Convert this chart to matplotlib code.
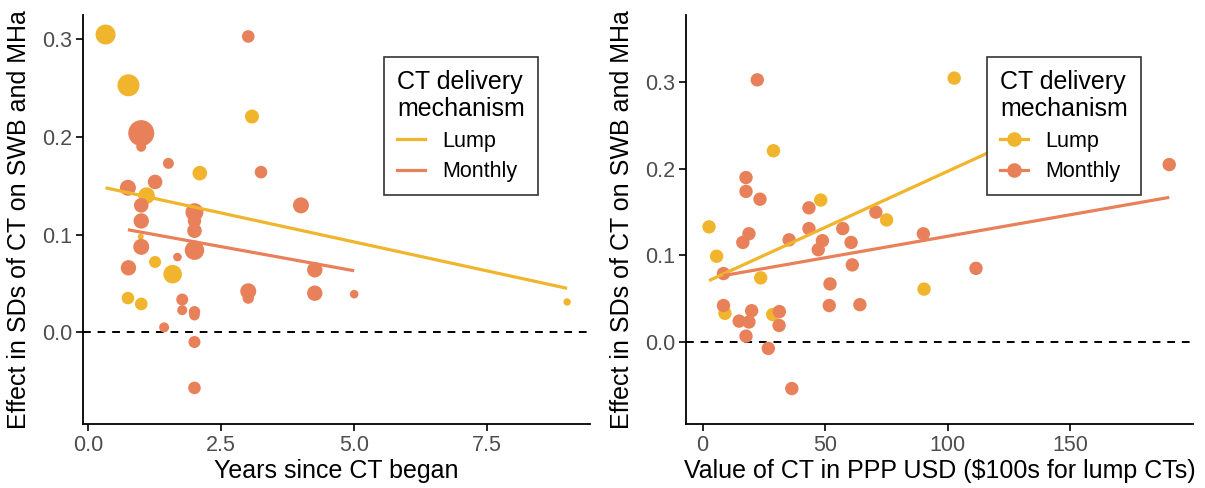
import matplotlib
matplotlib.use("Agg")
import matplotlib.pyplot as plt
from matplotlib.lines import Line2D

plt.rcParams['font.family'] = ['Liberation Sans', 'DejaVu Sans']

# ---- data: left panel (years since CT began) ----
years_lump = [0.33, 0.76, 3.08, 2.10, 1.10, 0.99, 1.26, 1.59, 0.75, 1.00, 9.00, 1.00]
eff_lump_l = [0.305, 0.253, 0.221, 0.163, 0.140, 0.098, 0.072, 0.0595, 0.035, 0.029, 0.031, 0.130]
wt_lump_l = [10, 11, 7, 7.3, 8.3, 3, 6, 9.3, 6.3, 6.3, 3.7, 3]

years_month = [3.01, 1.00, 1.00, 1.51, 3.25, 0.75, 1.26, 1.00, 2.00, 4.00,
               1.00, 2.00, 2.00, 1.00, 2.00, 1.68, 0.76, 4.26, 4.26, 5.00,
               3.01, 3.01, 1.77, 1.77, 2.00, 2.00, 1.43, 2.00, 2.00]
eff_month_l = [0.303, 0.204, 0.190, 0.173, 0.164, 0.148, 0.154, 0.130, 0.123, 0.130,
               0.114, 0.114, 0.104, 0.0875, 0.084, 0.077, 0.066, 0.064, 0.040, 0.039,
               0.042, 0.035, 0.0335, 0.0226, 0.021, 0.0175, 0.005, -0.010, -0.057]
wt_month_l = [6.3, 13, 5, 5.5, 6.3, 8, 7.3, 7.3, 9, 8,
              7.7, 6.7, 7.3, 8, 9.7, 4.3, 7.7, 7.7, 7.7, 4.3,
              8, 5.7, 6, 5, 5.7, 5.3, 5, 6, 6.3]

# fitted lines (intercept, slope)
fit_lump_l = (0.1519, -0.01188)
fit_month_l = (0.1124, -0.00988)

# ---- data: right panel (value of CT) ----
value_lump = [28.9, 48.2, 75.1, 2.6, 5.7, 23.7, 90.4, 9.1, 28.6, 102.7, 130.0]
eff_lump_r = [0.221, 0.164, 0.141, 0.133, 0.099, 0.074, 0.061, 0.033, 0.0316, 0.305, 0.253]

value_month = [22.3, 17.7, 17.7, 23.4, 43.4, 70.7, 43.4, 57.2, 90.1, 18.9,
               16.4, 35.3, 48.9, 47.2, 60.6, 61.1, 8.5, 52.0, 8.5, 20.0,
               51.7, 64.2, 31.3, 14.9, 18.9, 31.2, 17.7, 26.8, 36.4, 190.5, 111.6]
eff_month_r = [0.303, 0.190, 0.174, 0.165, 0.155, 0.150, 0.131, 0.131, 0.125, 0.125,
               0.115, 0.118, 0.117, 0.1066, 0.115, 0.089, 0.079, 0.067, 0.042, 0.036,
               0.042, 0.043, 0.035, 0.024, 0.023, 0.019, 0.0066, -0.0076, -0.054, 0.205, 0.085]

fit_lump_r = (0.0675, 0.001297)
fit_month_r = (0.0724, 0.000497)

labels = ["Lump", "Monthly"]
yticks = [0.0, 0.1, 0.2, 0.3]
yticklabels = ["0.0", "0.1", "0.2", "0.3"]

C_LUMP = '#F0B52C'
C_MONTH = '#E8815A'
TICK_C = '#4d4d4d'


def px_to_s(r):
    # radius in pixels (dpi 100) -> scatter area in pt^2
    return (2 * r * 0.72) ** 2


def style_axes(ax):
    for side in ['top', 'right']:
        ax.spines[side].set_visible(False)
    for side in ['left', 'bottom']:
        ax.spines[side].set_linewidth(1.3)
    ax.tick_params(direction='out', length=5, width=1.2, colors='black',
                   labelcolor=TICK_C, labelsize=15.5, pad=3)
    ax.axhline(0, color='black', lw=1.4, ls=(0, (4, 3.5)), zorder=1)
    ax.set_yticks(yticks)
    ax.set_yticklabels(yticklabels)
    ax.set_ylabel("Effect in SDs of CT on SWB and MHa", fontsize=18, labelpad=8)


def fit_line(ax, xs, fit, color):
    x0, x1 = min(xs), max(xs)
    ax.plot([x0, x1], [fit[0] + fit[1] * x0, fit[0] + fit[1] * x1],
            color=color, lw=2.3, solid_capstyle='butt', zorder=4)


def add_legend(ax, with_marker):
    mk = 'o' if with_marker else None
    handles = [Line2D([], [], color=C_LUMP, lw=2.3, marker=mk, markersize=9.5),
               Line2D([], [], color=C_MONTH, lw=2.3, marker=mk, markersize=9.5)]
    leg = ax.legend(handles, labels, title="CT delivery\nmechanism",
                    loc='upper left', bbox_to_anchor=(0.594, 0.897),
                    borderaxespad=0, fontsize=15.5, title_fontsize=18,
                    frameon=True, fancybox=False, handlelength=1.3,
                    handletextpad=0.8, labelspacing=0.45, borderpad=0.6)
    leg._legend_box.align = "left"
    leg.get_title().set_linespacing(1.15)
    fr = leg.get_frame()
    fr.set_edgecolor('#333333')
    fr.set_linewidth(1.2)
    fr.set_alpha(1)
    leg.set_zorder(10)


fig = plt.figure(figsize=(12.05, 4.88), dpi=100)

# left panel
ax1 = fig.add_axes([83 / 1205, 64 / 488, 507 / 1205, 409 / 488])
ax1.scatter(years_lump, eff_lump_l, s=[px_to_s(r) for r in wt_lump_l],
            color=C_LUMP, edgecolors='none', zorder=3)
ax1.scatter(years_month, eff_month_l, s=[px_to_s(r) for r in wt_month_l],
            color=C_MONTH, edgecolors='none', zorder=3)
fit_line(ax1, years_lump, fit_lump_l, C_LUMP)
fit_line(ax1, years_month, fit_month_l, C_MONTH)
ax1.set_xlim(-0.094, 9.43)
ax1.set_ylim(-0.094, 0.325)
ax1.set_xticks([0, 2.5, 5.0, 7.5])
ax1.set_xticklabels(["0.0", "2.5", "5.0", "7.5"])
style_axes(ax1)
ax1.set_xlabel("Years since CT began", fontsize=18, labelpad=2)
add_legend(ax1, with_marker=False)

# right panel
ax2 = fig.add_axes([686 / 1205, 64 / 488, 507 / 1205, 409 / 488])
ax2.scatter(value_lump, eff_lump_r, s=px_to_s(6.7),
            color=C_LUMP, edgecolors='none', zorder=3)
ax2.scatter(value_month, eff_month_r, s=px_to_s(6.7),
            color=C_MONTH, edgecolors='none', zorder=3)
fit_line(ax2, value_lump, fit_lump_r, C_LUMP)
fit_line(ax2, value_month, fit_month_r, C_MONTH)
ax2.set_xlim(-6.8, 200.2)
ax2.set_ylim(-0.095, 0.378)
ax2.set_xticks([0, 50, 100, 150])
style_axes(ax2)
ax2.set_xlabel("Value of CT in PPP USD ($100s for lump CTs)", fontsize=18, labelpad=2)
add_legend(ax2, with_marker=True)

fig.savefig("out.png", dpi=100)
